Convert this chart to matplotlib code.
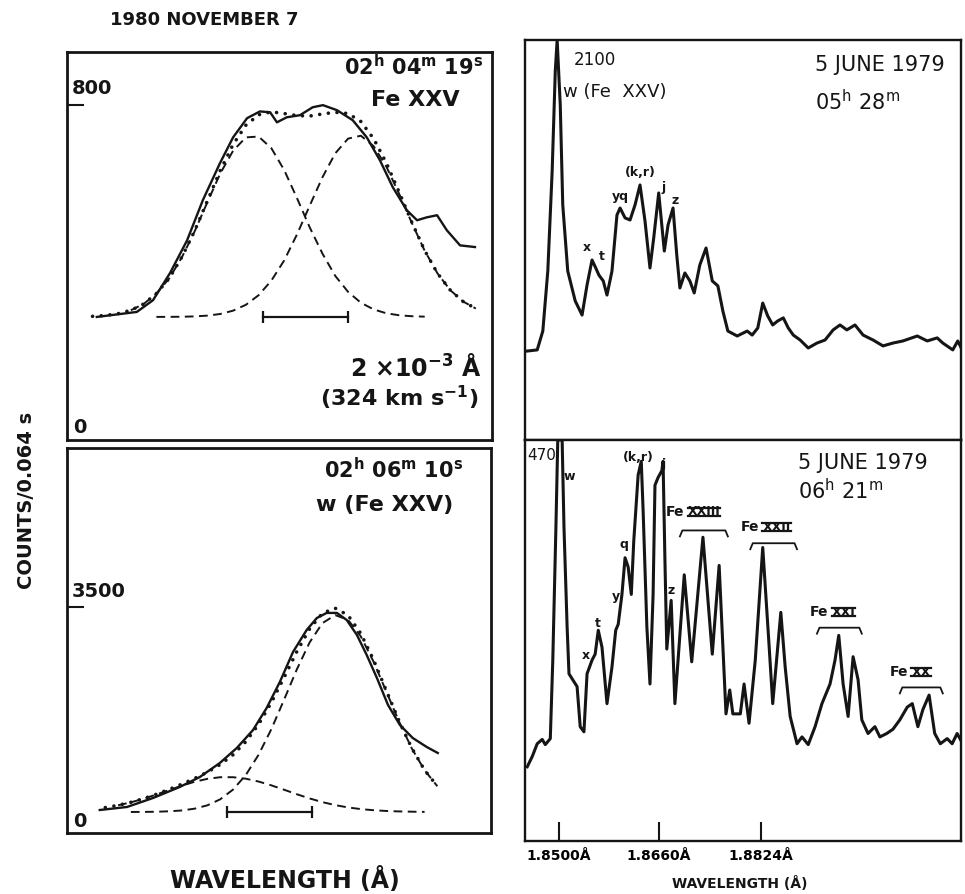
import numpy as np
import matplotlib.pyplot as plt
from matplotlib.lines import Line2D
from matplotlib.transforms import IdentityTransform

plt.rcParams['font.family'] = ['DejaVu Sans']
plt.rcParams['mathtext.fontset'] = 'custom'
plt.rcParams['mathtext.default'] = 'regular'

INK = '#151515'
W, H = 965, 894

# ---- 1980 Nov 7, Fe XXV profiles (x in units of 1e-3 A) ----
grid_x = np.round(np.arange(0.6, 9.61, 0.3), 1)

# 02h 04m 19s : two fitted components above a flat background
base_a = 294
g1_a = [1.5, 3.6, 7.9, 16, 31, 56, 92, 143, 205, 275, 343, 397, 429, 431, 403, 351,
        284, 214, 151, 98, 60, 34, 18, 8.7, 4.0, 1.7, 0.7, 0.3, 0.1, 0, 0]
g2_a = [0, 0, 0, 0, 0, 0.1, 0.2, 0.5, 1.3, 3.2, 7.1, 15, 29, 52, 87, 135,
        197, 266, 334, 391, 426, 433, 408, 359, 294, 224, 158, 104, 64, 37, 20]
obs_a_x = [0.70, 1.64, 2.02, 2.42, 2.82, 3.19, 3.59, 3.90, 4.23, 4.53, 4.77, 4.93, 5.16, 5.47,
           5.77, 6.01, 6.34, 6.71, 7.04, 7.35, 7.65, 7.98, 8.22, 8.45, 8.69, 8.92, 9.23, 9.58]
obs_a_y = [294, 306, 334, 399, 477, 573, 661, 723, 769, 785, 783, 759, 771, 776,
           795, 800, 788, 764, 723, 668, 604, 549, 525, 532, 537, 501, 465, 461]

# 02h 06m 10s : weak blue component plus main line
base_b = 325
g1_b = [44, 69, 104, 150, 206, 271, 340, 408, 469, 514, 539, 539, 516, 472, 413, 345,
        275, 210, 153, 107, 71, 45, 28, 16, 9, 5, 2, 1, 0.5, 0, 0]
g2_b = [0, 0, 0, 0.6, 1.6, 4.3, 11, 24, 52, 104, 197, 347, 573, 886, 1283, 1740,
        2210, 2627, 2925, 3049, 2977, 2721, 2329, 1866, 1401, 984, 647, 399, 230, 124, 63]
obs_b_x = [0.77, 1.41, 2.02, 2.65, 3.12, 3.59, 3.99, 4.37, 4.69, 5.00, 5.31, 5.63,
           5.87, 6.10, 6.34, 6.57, 6.81, 7.04, 7.28, 7.54, 7.82, 8.12, 8.45, 8.71]
obs_b_y = [356, 403, 542, 713, 867, 1084, 1317, 1595, 1936, 2339, 2804, 3144,
           3330, 3408, 3408, 3299, 3067, 2757, 2401, 1983, 1673, 1472, 1332, 1239]

# ---- 5 June 1979 spectra (wavelength in A, counts) ----
spec1_wl = [1.8449, 1.8465, 1.8474, 1.8482, 1.8489, 1.8494, 1.8497, 1.8502, 1.8506, 1.8514,
            1.8526, 1.8537, 1.8545, 1.8553, 1.8559, 1.8564, 1.8571, 1.8577, 1.8585, 1.8593,
            1.8598, 1.8606, 1.8614, 1.8622, 1.8630, 1.8638, 1.8646, 1.8652, 1.8660, 1.8669,
            1.8675, 1.8683, 1.8689, 1.8694, 1.8702, 1.8710, 1.8717, 1.8726, 1.8736, 1.8746,
            1.8755, 1.8763, 1.8771, 1.8786, 1.8802, 1.8810, 1.8819, 1.8827, 1.8835, 1.8843,
            1.8851, 1.8860, 1.8868, 1.8876, 1.8887, 1.8900, 1.8914, 1.8927, 1.8940, 1.8951,
            1.8962, 1.8975, 1.8988, 1.9004, 1.9020, 1.9036, 1.9052, 1.9075, 1.9091, 1.9107,
            1.9116, 1.9132, 1.9140, 1.9148]
spec1_counts = [467, 473, 572, 887, 1412, 1937, 2100, 1759, 1234, 887,
                730, 656, 814, 945, 903, 866, 835, 761, 887, 1181,
                1218, 1166, 1155, 1234, 1339, 1150, 903, 1061, 1297, 992,
                1129, 1218, 971, 798, 877, 835, 772, 919, 1008, 835,
                809, 677, 572, 546, 572, 551, 588, 719, 651, 604,
                625, 641, 588, 551, 525, 483, 509, 525, 578, 604,
                578, 604, 551, 525, 494, 509, 520, 546, 520, 536,
                509, 473, 520, 467]

spec2_wl = [1.8449, 1.8457, 1.8465, 1.8473, 1.8478, 1.8486, 1.8490, 1.8495, 1.8498, 1.8505,
            1.8508, 1.8513, 1.8516, 1.8522, 1.8529, 1.8534, 1.8540, 1.8545, 1.8553, 1.8558,
            1.8563, 1.8569, 1.8577, 1.8585, 1.8591, 1.8595, 1.8601, 1.8606, 1.8611, 1.8616,
            1.8620, 1.8627, 1.8632, 1.8635, 1.8641, 1.8646, 1.8651, 1.8654, 1.8659, 1.8665,
            1.8667, 1.8670, 1.8673, 1.8680, 1.8686, 1.8701, 1.8713, 1.8731, 1.8746, 1.8757,
            1.8768, 1.8774, 1.8779, 1.8791, 1.8797, 1.8805, 1.8815, 1.8827, 1.8837, 1.8843,
            1.8856, 1.8863, 1.8871, 1.8882, 1.8890, 1.8900, 1.8911, 1.8922, 1.8935, 1.8943,
            1.8949, 1.8956, 1.8964, 1.8972, 1.8980, 1.8986, 1.8996, 1.9007, 1.9015, 1.9026,
            1.9036, 1.9047, 1.9059, 1.9067, 1.9076, 1.9084, 1.9094, 1.9103, 1.9112, 1.9123,
            1.9131, 1.9139, 1.9148]
spec2_counts = [87, 99, 114, 119, 113, 120, 212, 367, 470, 470,
                367, 251, 196, 189, 181, 134, 128, 196, 212, 219,
                247, 227, 161, 204, 247, 254, 289, 332, 321, 289,
                352, 429, 445, 387, 251, 184, 289, 417, 426, 434,
                445, 329, 225, 282, 161, 312, 210, 356, 219, 323,
                149, 177, 149, 149, 184, 138, 212, 344, 231, 161,
                268, 204, 146, 114, 122, 113, 134, 161, 184, 212,
                241, 184, 146, 216, 189, 142, 126, 134, 122, 126,
                131, 142, 157, 161, 134, 154, 171, 126, 114, 120,
                114, 126, 114]

ids_1 = [("x", 1.8545, 1013), ("t", 1.8569, 961), ("yq", 1.8598, 1276),
         ("(k,r)", 1.8630, 1402), ("j", 1.8667, 1328), ("z", 1.8686, 1260)]
ids_2 = [("w", 1.8516, 427), ("x", 1.8543, 218), ("t", 1.8563, 255), ("y", 1.8591, 286),
         ("q", 1.8604, 347), ("(k,r)", 1.8627, 449), ("j", 1.8667, 441), ("z", 1.8680, 294)]

# ion, label split wavelength, label level, bracket start, bracket end, bracket level
fe_groups = [("XXIII", 1.8701, 386, 1.8694, 1.8771, 364),
             ("XXII", 1.8821, 368, 1.8807, 1.8882, 349),
             ("XXI", 1.8932, 268, 1.8914, 1.8986, 250),
             ("XX", 1.9060, 198, 1.9047, 1.9116, 180)]

tick_wl = [1.8500, 1.8660, 1.8824]
tick_txt = ["1.8500Å", "1.8660Å", "1.8824Å"]


def px_rect(x0, y0, x1, y1):
    return [x0 / W, 1 - y1 / H, (x1 - x0) / W, (y1 - y0) / H]


def frame(ax, lw):
    for s in ax.spines.values():
        s.set_linewidth(lw)
        s.set_color(INK)
    ax.set_xticks([])
    ax.set_yticks([])


fig = plt.figure(figsize=(W / 100, H / 100), dpi=100)

ax1 = fig.add_axes(px_rect(67, 52, 492, 440))
ax2 = fig.add_axes(px_rect(67, 448, 491, 833))
ax3 = fig.add_axes(px_rect(525, 40, 961, 440))
ax4 = fig.add_axes(px_rect(525, 440, 961, 841))

dash = (0, (4.5, 2.8))
dots = (0, (0.01, 2.4))

# --- upper left profile ---
g1 = np.array(g1_a)
g2 = np.array(g2_a)
ax1.plot(obs_a_x, obs_a_y, color=INK, lw=1.7)
ax1.plot(grid_x[3:27], base_a + g1[3:27], color=INK, lw=1.4, ls=dash)
ax1.plot(grid_x[5:], base_a + g2[5:], color=INK, lw=1.4, ls=dash)
ax1.plot(grid_x, base_a + g1 + g2, color=INK, lw=2.6, ls=dots, dash_capstyle='round')
ax1.plot([4.6, 6.6], [base_a, base_a], color=INK, lw=1.6, marker='|', ms=8, mew=1.6)
ax1.set_xlim(0, 9.98)
ax1.set_ylim(0, 927)
frame(ax1, 2.0)
ax1.set_yticks([800])
ax1.tick_params(axis='y', direction='in', length=12, width=1.5, labelleft=False, color=INK)

bold = dict(fontweight='bold', color=INK)
ax1.text(0.979, 0.962, r"02$^{h}$ 04$^{m}$ 19$^{s}$", transform=ax1.transAxes,
         ha='right', va='center', fontsize=15, **bold)
ax1.text(0.819, 0.876, "Fe XXV", transform=ax1.transAxes, ha='center', va='center',
         fontsize=16, **bold)
ax1.text(0.012, 0.907, "800", transform=ax1.transAxes, ha='left', va='center', fontsize=14, **bold)
ax1.text(0.976, 0.186, r"2 ×10$^{-3}$ Å", transform=ax1.transAxes, ha='right', va='center',
         fontsize=17, **bold)
ax1.text(0.967, 0.108, r"(324 km s$^{-1}$)", transform=ax1.transAxes, ha='right', va='center',
         fontsize=16, **bold)
ax1.text(0.014, 0.031, "0", transform=ax1.transAxes, ha='left', va='center', fontsize=14, **bold)

# --- lower left profile ---
h1 = np.array(g1_b)
h2 = np.array(g2_b)
ax2.plot(obs_b_x, obs_b_y, color=INK, lw=1.7)
ax2.plot(grid_x[2:27], base_b + h1[2:27], color=INK, lw=1.4, ls=dash)
ax2.plot(grid_x[3:28], base_b + h2[3:28], color=INK, lw=1.4, ls=dash)
ax2.plot(grid_x[1:28], (base_b + h1 + h2)[1:28], color=INK, lw=2.6, ls=dots,
         dash_capstyle='round')
ax2.plot([3.75, 5.75], [base_b, base_b], color=INK, lw=1.6, marker='|', ms=8, mew=1.6)
ax2.set_xlim(0, 9.96)
ax2.set_ylim(0, 5962)
frame(ax2, 2.0)
ax2.set_yticks([3500])
ax2.tick_params(axis='y', direction='in', length=12, width=1.5, labelleft=False, color=INK)

ax2.text(0.934, 0.943, r"02$^{h}$ 06$^{m}$ 10$^{s}$", transform=ax2.transAxes,
         ha='right', va='center', fontsize=15, **bold)
ax2.text(0.910, 0.852, "w (Fe XXV)", transform=ax2.transAxes, ha='right', va='center',
         fontsize=16, **bold)
ax2.text(0.012, 0.626, "3500", transform=ax2.transAxes, ha='left', va='center', fontsize=14, **bold)
ax2.text(0.014, 0.029, "0", transform=ax2.transAxes, ha='left', va='center', fontsize=14, **bold)

# --- upper right spectrum ---
xl = (1.84454, 1.91452)
ax3.plot(spec1_wl, spec1_counts, color=INK, lw=2.2)
ax3.set_xlim(*xl)
ax3.set_ylim(0, 2100)
frame(ax3, 1.7)
for lab, wl, c in ids_1:
    ax3.text(wl, c, lab, ha='center', va='center', fontsize=9, fontweight='bold', color=INK)
ax3.text(0.161, 0.95, "2100", transform=ax3.transAxes, ha='center', va='center',
         fontsize=12, color=INK)
ax3.text(0.087, 0.87, "w (Fe  XXV)", transform=ax3.transAxes, ha='left', va='center',
         fontsize=13, color=INK)
ax3.text(0.665, 0.9375, "5 JUNE 1979", transform=ax3.transAxes, ha='left', va='center',
         fontsize=15, color=INK)
ax3.text(0.665, 0.845, r"05$^{h}$ 28$^{m}$", transform=ax3.transAxes, ha='left', va='center',
         fontsize=15, color=INK)

# --- lower right spectrum ---
ax4.plot(spec2_wl, spec2_counts, color=INK, lw=2.2)
ax4.set_xlim(*xl)
ax4.set_ylim(0, 470)
frame(ax4, 1.7)
ax4.set_xticks(tick_wl)
ax4.set_xticklabels(tick_txt, fontsize=10, fontweight='bold')
ax4.tick_params(axis='x', direction='in', length=14, width=1.5, pad=6, color=INK)
for lab, wl, c in ids_2:
    ax4.text(wl, c, lab, ha='center', va='center', fontsize=9, fontweight='bold', color=INK)
ax4.text(0.006, 0.962, "470", transform=ax4.transAxes, ha='left', va='center',
         fontsize=11, color=INK)
ax4.text(0.626, 0.943, "5 JUNE 1979", transform=ax4.transAxes, ha='left', va='center',
         fontsize=15, color=INK)
ax4.text(0.626, 0.875, r"06$^{h}$ 21$^{m}$", transform=ax4.transAxes, ha='left', va='center',
         fontsize=15, color=INK)

numerals = []
for ion, wl, c, b0, b1, bc in fe_groups:
    ax4.text(wl, c, "Fe", ha='right', va='center', fontsize=10, fontweight='bold', color=INK)
    t = ax4.annotate(ion, (wl, c), xytext=(2.5, 0), textcoords='offset points',
                     ha='left', va='center', fontsize=9, fontweight='bold', color=INK)
    numerals.append(t)
    ax4.plot([b0, b0 + 0.0004, b1 - 0.0004, b1], [bc - 7, bc, bc, bc - 7], color=INK, lw=1.3)

# shared labels
fig.text(27 / W, 1 - 500 / H, "COUNTS/0.064 s", rotation=90, ha='center', va='center',
         fontsize=14, **bold)
fig.text(110 / W, 1 - 20 / H, "1980 NOVEMBER 7", ha='left', va='center', fontsize=13, **bold)
fig.text(285 / W, 1 - 880 / H, "WAVELENGTH (Å)", ha='center', va='center', fontsize=17, **bold)
fig.text(740 / W, 1 - 884 / H, "WAVELENGTH (Å)", ha='center', va='center', fontsize=10, **bold)

# bars above and below the roman numerals
fig.canvas.draw()
rend = fig.canvas.get_renderer()
for t in numerals:
    bb = t.get_window_extent(rend)
    for yy in (bb.y0 + 2.5, bb.y1 - 2.5):
        fig.add_artist(Line2D([bb.x0, bb.x1], [yy, yy], lw=1.6, color=INK,
                              transform=IdentityTransform()))

fig.savefig("out.png", dpi=100, facecolor='white')
